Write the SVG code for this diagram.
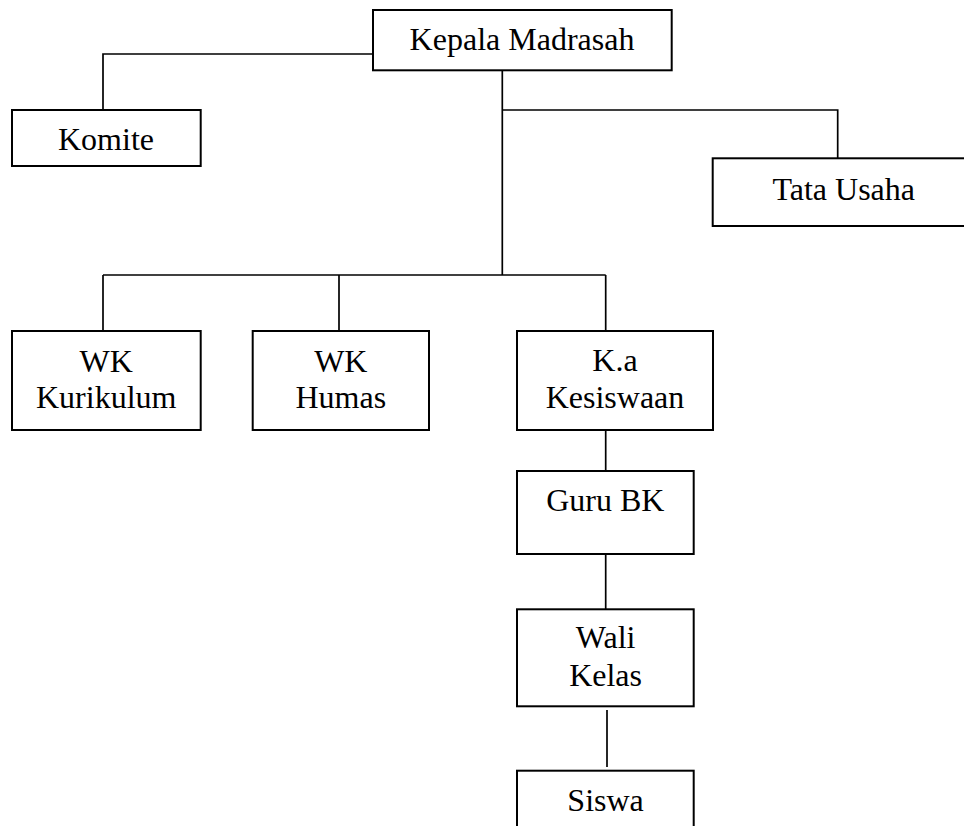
<svg xmlns="http://www.w3.org/2000/svg" width="964" height="826" viewBox="0 0 964 826">
<style>
.box{fill:#fff;stroke:#000;stroke-width:2}
.ln{fill:none;stroke:#000;stroke-width:1.7}
text{font-family:"Liberation Serif","Times New Roman",serif;font-size:32px;fill:#000;text-anchor:middle}
</style>
<rect width="964" height="826" fill="#fff"/>
<g id="connectors">
<polyline class="ln" points="373,54 103,54 103,110"/>
<line class="ln" x1="502.3" y1="70" x2="502.3" y2="275"/>
<polyline class="ln" points="502.3,110 837.7,110 837.7,158"/>
<line class="ln" x1="103" y1="275" x2="605.7" y2="275"/>
<line class="ln" x1="103" y1="275" x2="103" y2="331"/>
<line class="ln" x1="339" y1="275" x2="339" y2="331"/>
<line class="ln" x1="605.7" y1="275" x2="605.7" y2="331"/>
<line class="ln" x1="605.7" y1="430" x2="605.7" y2="471"/>
<line class="ln" x1="605.7" y1="554" x2="605.7" y2="609"/>
<line class="ln" x1="607" y1="710" x2="607" y2="767"/>
</g>
<g id="kepala">
<rect class="box" x="373" y="10" width="298.7" height="60.3"/>
<text x="522" y="50">Kepala Madrasah</text>
</g>
<g id="komite">
<rect class="box" x="12" y="110" width="188.7" height="56"/>
<text x="106" y="150">Komite</text>
</g>
<g id="tata-usaha">
<rect class="box" x="712.7" y="158.3" width="260" height="67.7"/>
<text x="843.7" y="200">Tata Usaha</text>
</g>
<g id="wk-kurikulum">
<rect class="box" x="12" y="331" width="188.7" height="99"/>
<text x="106.2" y="371.7">WK</text>
<text x="106.2" y="408.3">Kurikulum</text>
</g>
<g id="wk-humas">
<rect class="box" x="252.7" y="331" width="176.3" height="99"/>
<text x="340.8" y="371.7">WK</text>
<text x="340.8" y="408.3">Humas</text>
</g>
<g id="ka-kesiswaan">
<rect class="box" x="517" y="331" width="196" height="99"/>
<text x="615" y="371">K.a</text>
<text x="615" y="408.3">Kesiswaan</text>
</g>
<g id="guru-bk">
<rect class="box" x="517" y="471" width="176.7" height="83"/>
<text x="605.3" y="511">Guru BK</text>
</g>
<g id="wali-kelas">
<rect class="box" x="517" y="609.3" width="176.7" height="97"/>
<text x="605.6" y="648">Wali</text>
<text x="605.6" y="686">Kelas</text>
</g>
<g id="siswa">
<rect class="box" x="517" y="770.7" width="176.7" height="70"/>
<text x="605.6" y="810.5">Siswa</text>
</g>
</svg>
